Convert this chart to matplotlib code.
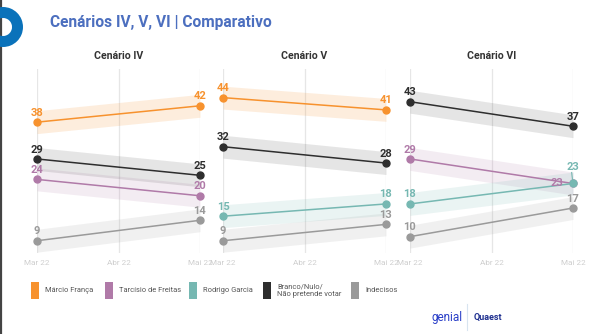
import numpy as np
import matplotlib
matplotlib.use("Agg")
import matplotlib.pyplot as plt
from matplotlib.patches import Rectangle, Wedge
from matplotlib.lines import Line2D

plt.rcParams['font.family'] = ['Roboto', 'DejaVu Sans']

# ----------- DATA -----------------------------------------------------------
months = ["Mar 22", "Abr 22", "Mai 22"]
scenarios = ["Cenário IV", "Cenário V", "Cenário VI"]

candidates = ["Márcio França", "Tarcísio de Freitas", "Rodrigo Garcia",
              "Branco/Nulo/\nNão pretende votar", "Indecisos"]
colors = ["#F7922E", "#B07AA8", "#76B8B2", "#2E2E2E", "#9A9A9A"]
band_alpha = [0.16, 0.14, 0.15, 0.12, 0.14]

# values at Mar 22 and Mai 22, None where the candidate is not in the scenario
franca    = [[38, 42], [44, 41], None]
tarcisio  = [[24, 20], None,     [29, 23]]
rodrigo   = [None,     [15, 18], [18, 23]]
branco    = [[29, 25], [32, 28], [43, 37]]
indecisos = [[9, 14],  [9, 13],  [10, 17]]
series = [franca, tarcisio, rodrigo, branco, indecisos]

band = 2.8  # half-width of the shaded band
# ----------------------------------------------------------------------------

W, H = 600, 334
fig = plt.figure(figsize=(W / 100, H / 100), dpi=100)
fig.patch.set_facecolor("white")


def fx(px):
    return px / W


def fy(py):
    return 1 - py / H


# header: blue ring (drawn in pixel-square coords so it stays round)
ring_tr = matplotlib.transforms.Affine2D().scale(1, W / H) + fig.transFigure
fig.add_artist(Wedge((fx(3), fy(27) * H / W), 20 / W, 0, 360, width=11 / W,
                     transform=ring_tr, color="#0A72BA", lw=0, zorder=5))
fig.add_artist(Line2D([fx(1), fx(1)], [0, 1], color="#444444", lw=1.6,
                      transform=fig.transFigure))
fig.text(fx(50), fy(22), "Cenários IV, V, VI | Comparativo", fontsize=11.2,
         fontweight="bold", color="#4C6FBF", va="center", ha="left")

panel_left = [37, 223, 410]
panel_w = 163
top_px, bottom_px = 69, 253
x = np.array([0, 2])

for i, name in enumerate(scenarios):
    ax = fig.add_axes([fx(panel_left[i]), fy(bottom_px), panel_w / W,
                       (bottom_px - top_px) / H])
    ax.set_xlim(0, 2)
    ax.set_ylim(6, 51)
    for s in ax.spines.values():
        s.set_visible(False)
    ax.set_yticks([])
    ax.set_xticks([0, 1, 2])
    ax.set_xticklabels(months)
    ax.tick_params(axis="x", length=0, pad=5, labelsize=5.9, labelcolor="#CFCFCF")
    for xv in [0, 1, 2]:
        ax.axvline(xv, color="#E6E6E6", lw=0.9, zorder=0)
    ax.set_title(name, fontsize=7.6, fontweight="bold", color="#333333", pad=7)

    for j, s in enumerate(series):
        vals = s[i]
        if vals is None:
            continue
        v = np.array(vals)
        c = colors[j]
        ax.fill_between(x, v - band, v + band, color=c, alpha=band_alpha[j],
                        lw=0, zorder=1)
        ax.plot(x, v, color=c, lw=1.1, marker="o", ms=5, zorder=3,
                clip_on=False)
        for k in range(2):
            dx, dy, ha = 0, 6.8, "center"
            if i == 2 and k == 1 and j == 1:
                dx, dy, ha = -7, 0, "right"
            if i == 2 and k == 1 and j == 2:
                dy = 12
                ax.annotate("", xy=(x[k], v[k]), xytext=(-1, 8),
                            textcoords="offset points",
                            arrowprops=dict(arrowstyle="-", color=c, lw=0.8,
                                            shrinkA=0, shrinkB=2),
                            zorder=4)
            ax.annotate(str(v[k]), (x[k], v[k]), xytext=(dx, dy),
                        textcoords="offset points", ha=ha, va="center",
                        fontsize=8, fontweight="bold", color=c, zorder=5,
                        annotation_clip=False)

# legend
leg_x = [31, 105, 189, 263, 351]
for j, name in enumerate(candidates):
    fig.add_artist(Rectangle((fx(leg_x[j]), fy(299)), 8 / W, 17 / H,
                             transform=fig.transFigure, color=colors[j],
                             lw=0))
    fig.text(fx(leg_x[j] + 14), fy(291), name, fontsize=5.4,
             color="#555555", va="center", ha="left", linespacing=1.15)

# logos
fig.text(fx(432), fy(318), "genial", fontsize=8.5, color="#2A3FC8",
         va="center", ha="left")
fig.add_artist(Line2D([fx(467), fx(467)], [fy(304), fy(330)],
                      color="#D8E4F0", lw=0.8, transform=fig.transFigure))
fig.text(fx(474), fy(317), "Quaest", fontsize=6.5, fontweight="bold",
         color="#1E2F8F", va="center", ha="left")

fig.savefig("out.png", dpi=100)
